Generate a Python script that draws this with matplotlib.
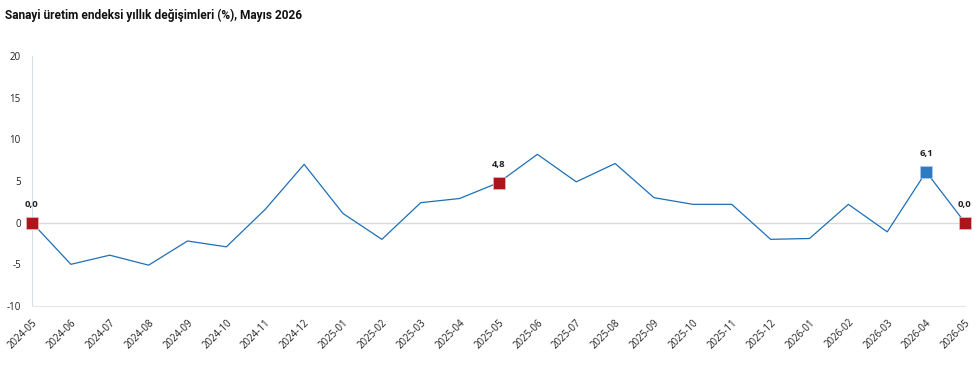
import matplotlib.pyplot as plt

plt.rcParams['font.family'] = ['Open Sans', 'DejaVu Sans']

# monthly data
months = ["2024-05", "2024-06", "2024-07", "2024-08", "2024-09", "2024-10",
          "2024-11", "2024-12", "2025-01", "2025-02", "2025-03", "2025-04",
          "2025-05", "2025-06", "2025-07", "2025-08", "2025-09", "2025-10",
          "2025-11", "2025-12", "2026-01", "2026-02", "2026-03", "2026-04",
          "2026-05"]
values = [0.0, -5.0, -3.9, -5.1, -2.2, -2.9, 1.6, 7.0, 1.1, -2.0, 2.4, 2.9,
          4.8, 8.2, 4.9, 7.1, 3.0, 2.2, 2.2, -2.0, -1.9, 2.2, -1.1, 6.1, 0.0]
marked_months = ["2024-05", "2025-05", "2026-04", "2026-05"]
y_ticks = [-10, -5, 0, 5, 10, 15, 20]

RED = "#ad141c"
BLUE = "#2f7bbf"


def main():
    fig = plt.figure(figsize=(9.79, 3.73), dpi=100)
    ax = fig.add_axes([32 / 979, 1 - 306 / 373, (965 - 32) / 979, 250 / 373])

    x = list(range(len(months)))
    ax.axhline(0, color="#d9d9d9", lw=1, zorder=1)
    ax.plot(x, values, color="#1f6fb4", lw=0.9, zorder=2)

    for m in marked_months:
        i = months.index(m)
        # the month before the latest gets the blue highlight
        col = BLUE if i == len(months) - 2 else RED
        ax.plot(i, values[i], marker="s", ms=8.5, color=col,
                mec="#e8b0b0" if col == RED else "#a8c8e8", mew=0.6,
                zorder=3, clip_on=False)
        ax.annotate(f"{values[i]:.1f}".replace(".", ","), (i, values[i]),
                    xytext=(0, 10), textcoords="offset points",
                    ha="center", va="bottom", fontsize=6.8,
                    fontweight="bold", color="#222222")

    ax.set_xlim(0, len(months) - 1)
    ax.set_ylim(-10, 20)
    ax.set_yticks(y_ticks)
    ax.set_yticklabels([str(t) for t in y_ticks], fontsize=7, color="#222222")
    ax.set_xticks(x)
    ax.set_xticklabels(months, rotation=45, ha="right", rotation_mode="anchor",
                       fontsize=7, color="#222222")
    ax.tick_params(axis="x", length=0, pad=8)
    ax.tick_params(axis="y", length=0, pad=8)

    for side in ["top", "right"]:
        ax.spines[side].set_visible(False)
    ax.spines["left"].set_color("#d6dde8")
    ax.spines["bottom"].set_color("#e6e6e6")

    fig.text(5 / 979, 1 - 15 / 373, "Sanayi üretim endeksi yıllık değişimleri (%), Mayıs 2026",
             fontsize=8.6, fontweight="bold", color="#111111", va="center", ha="left",
             family=["Roboto", "DejaVu Sans"])

    fig.savefig("out.png", dpi=100)


if __name__ == "__main__":
    main()
